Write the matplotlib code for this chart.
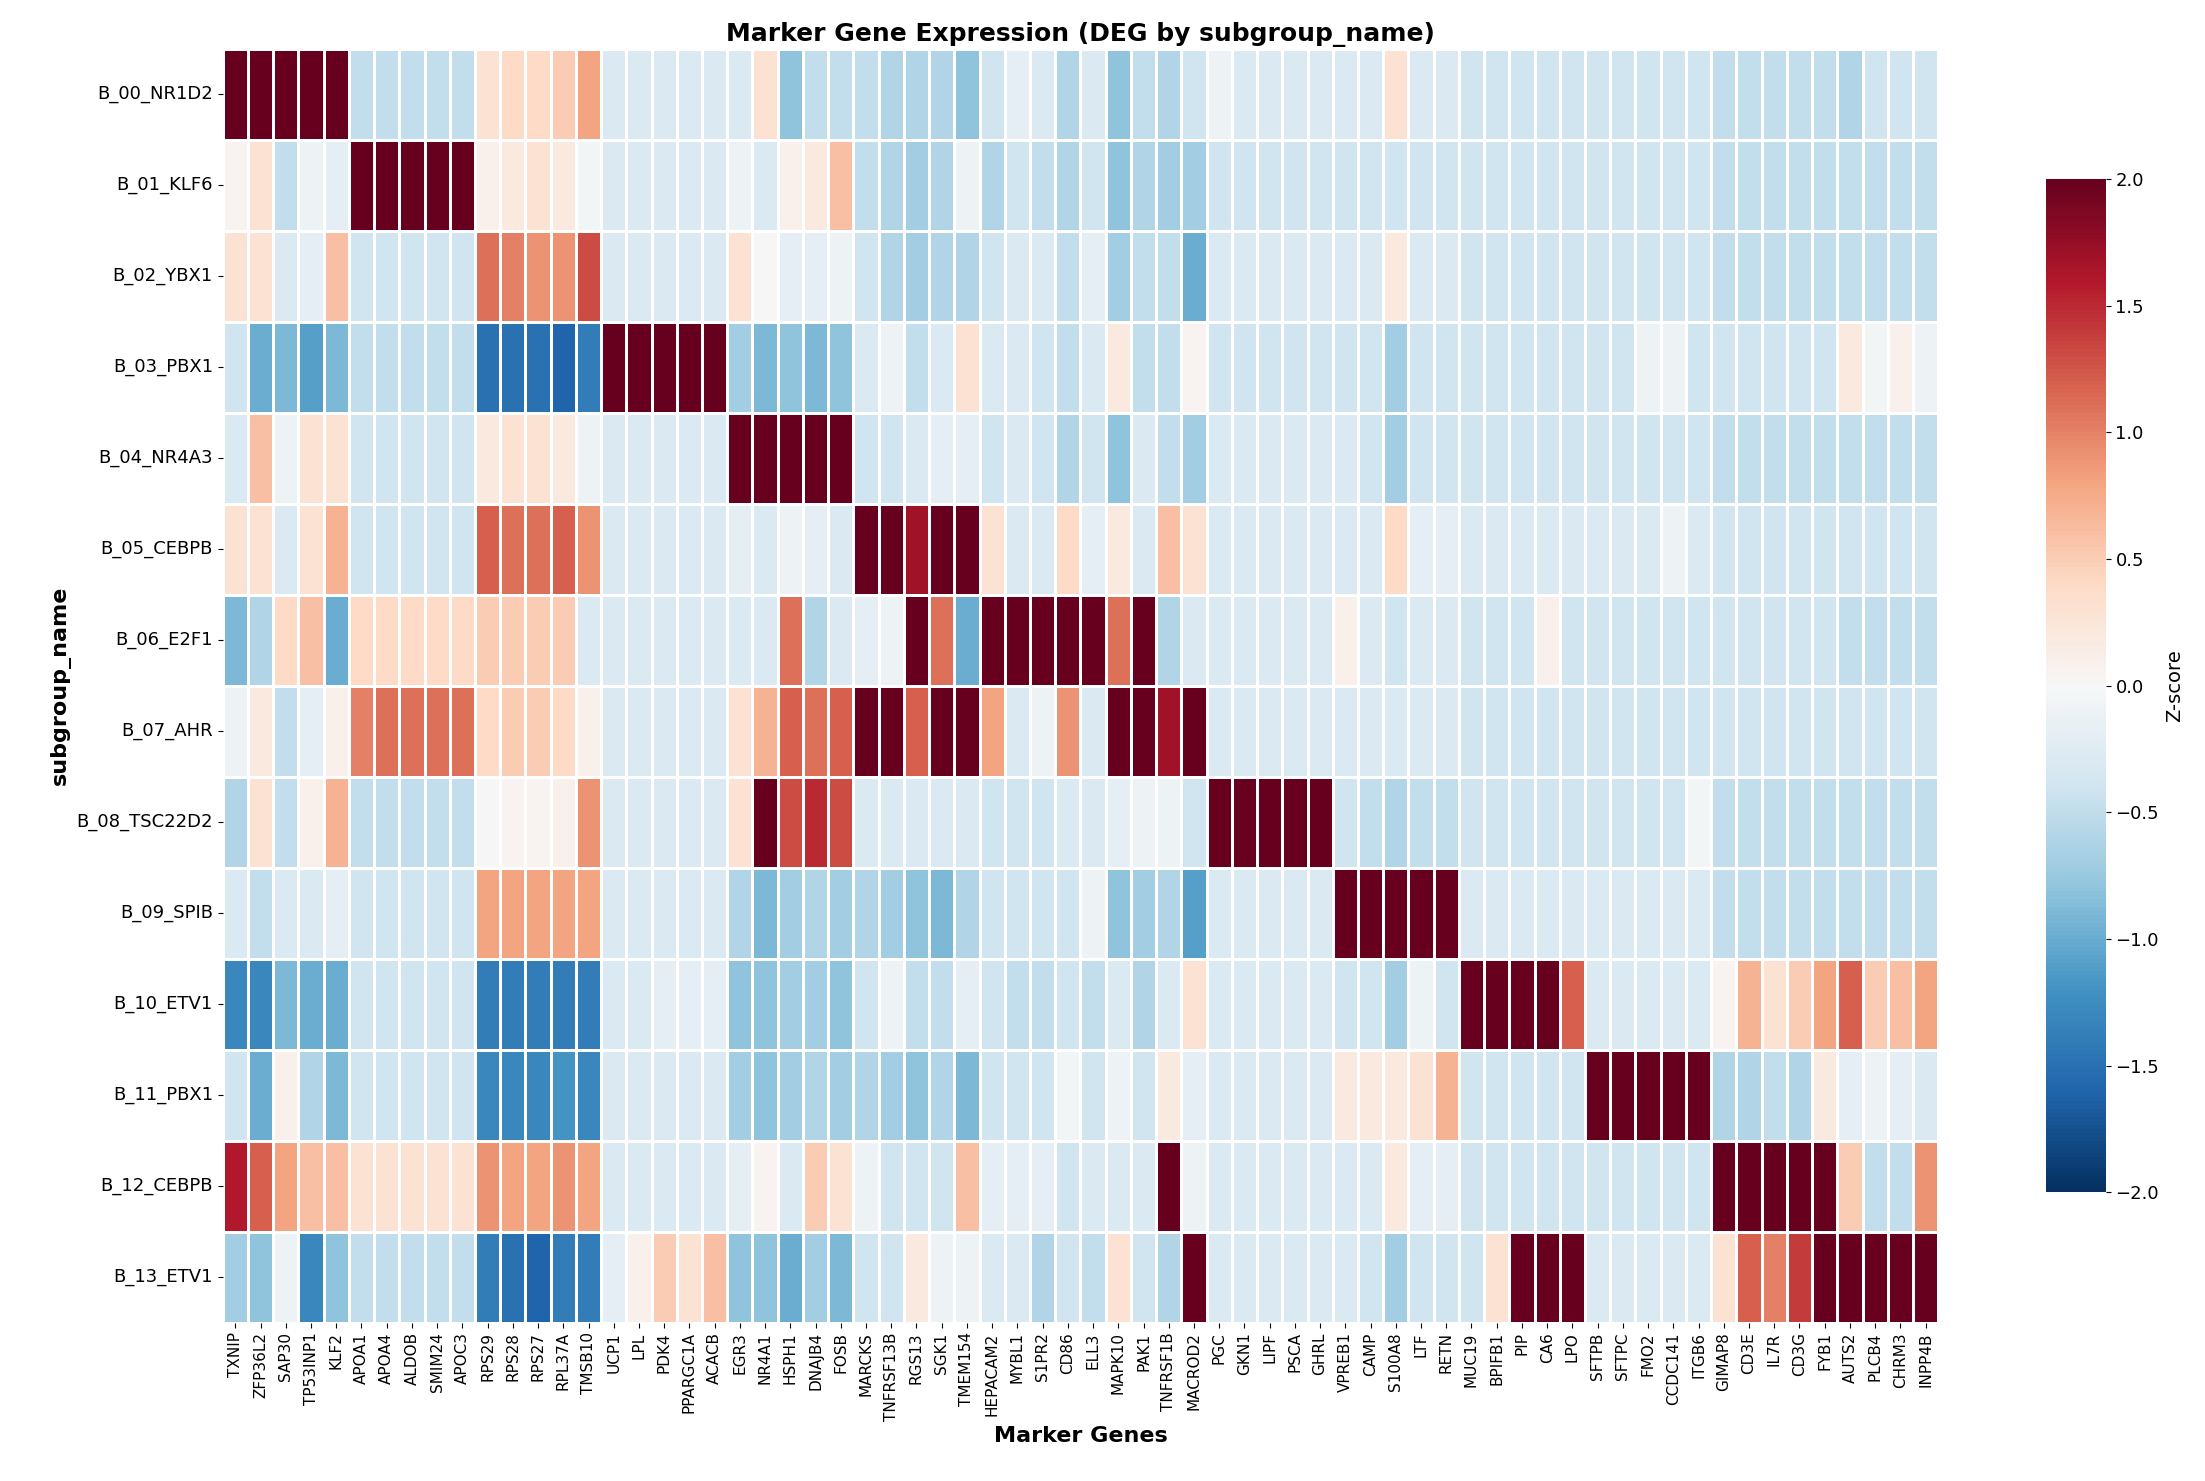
import matplotlib
matplotlib.use("Agg")
import matplotlib.pyplot as plt
import seaborn as sns
import numpy as np
import pandas as pd

genes = ["TXNIP","ZFP36L2","SAP30","TP53INP1","KLF2","APOA1","APOA4","ALDOB","SMIM24","APOC3",
 "RPS29","RPS28","RPS27","RPL37A","TMSB10","UCP1","LPL","PDK4","PPARGC1A","ACACB",
 "EGR3","NR4A1","HSPH1","DNAJB4","FOSB","MARCKS","TNFRSF13B","RGS13","SGK1","TMEM154",
 "HEPACAM2","MYBL1","S1PR2","CD86","ELL3","MAPK10","PAK1","TNFRSF1B","MACROD2",
 "PGC","GKN1","LIPF","PSCA","GHRL","VPREB1","CAMP","S100A8","LTF","RETN",
 "MUC19","BPIFB1","PIP","CA6","LPO","SFTPB","SFTPC","FMO2","CCDC141","ITGB6",
 "GIMAP8","CD3E","IL7R","CD3G","FYB1","AUTS2","PLCB4","CHRM3","INPP4B"]
groups = ["B_00_NR1D2","B_01_KLF6","B_02_YBX1","B_03_PBX1","B_04_NR4A3","B_05_CEBPB","B_06_E2F1",
 "B_07_AHR","B_08_TSC22D2","B_09_SPIB","B_10_ETV1","B_11_PBX1","B_12_CEBPB","B_13_ETV1"]

r00 = [2,2,2,2,2, -0.5,-0.5,-0.5,-0.5,-0.5, 0.3,0.4,0.4,0.5,0.8, -0.3,-0.3,-0.3,-0.3,-0.3,
 -0.3,0.3,-0.8,-0.5,-0.5, -0.5,-0.6,-0.6,-0.6,-0.8, -0.4,-0.2,-0.3,-0.6,-0.3, -0.8,-0.5,-0.6,-0.4,
 -0.1,-0.3,-0.3,-0.3,-0.3, -0.3,-0.3,0.3,-0.3,-0.3, -0.4,-0.4,-0.4,-0.4,-0.4, -0.4,-0.4,-0.4,-0.4,-0.4,
 -0.5,-0.5,-0.5,-0.5,-0.5, -0.6,-0.4,-0.4,-0.4]
r01 = [0.05,0.3,-0.5,-0.1,-0.2, 2,2,2,2,2, 0.1,0.2,0.3,0.2,-0.05, -0.3,-0.3,-0.3,-0.3,-0.3,
 -0.1,-0.3,0.1,0.2,0.6, -0.5,-0.6,-0.7,-0.6,-0.1, -0.6,-0.4,-0.5,-0.6,-0.4, -0.8,-0.6,-0.7,-0.7,
 -0.4,-0.4,-0.4,-0.4,-0.4, -0.4,-0.4,-0.4,-0.4,-0.4, -0.4,-0.4,-0.4,-0.4,-0.4, -0.4,-0.4,-0.4,-0.4,-0.4,
 -0.5,-0.5,-0.5,-0.5,-0.5, -0.5,-0.5,-0.5,-0.5]
r02 = [0.3,0.3,-0.3,-0.2,0.6, -0.4,-0.4,-0.4,-0.4,-0.4, 1.1,1.0,0.9,0.9,1.3, -0.3,-0.3,-0.3,-0.3,-0.3,
 0.3,0.0,-0.2,-0.2,-0.1, -0.4,-0.6,-0.7,-0.6,-0.6, -0.4,-0.3,-0.3,-0.5,-0.2, -0.7,-0.5,-0.5,-1.0,
 -0.3,-0.3,-0.3,-0.3,-0.3, -0.3,-0.3,0.2,-0.3,-0.3, -0.4,-0.4,-0.4,-0.4,-0.4, -0.4,-0.4,-0.4,-0.4,-0.4,
 -0.5,-0.5,-0.5,-0.5,-0.5, -0.5,-0.5,-0.5,-0.5]
r03 = [-0.4,-1.0,-0.9,-1.1,-0.9, -0.5,-0.5,-0.5,-0.5,-0.5, -1.5,-1.5,-1.5,-1.6,-1.4, 2,2,2,2,2,
 -0.7,-0.9,-0.8,-0.9,-0.8, -0.3,-0.1,-0.5,-0.3,0.3, -0.3,-0.3,-0.4,-0.5,-0.3, 0.2,-0.5,-0.5,0.05,
 -0.4,-0.4,-0.4,-0.4,-0.4, -0.4,-0.4,-0.7,-0.4,-0.4, -0.4,-0.4,-0.4,-0.4,-0.4, -0.4,-0.4,-0.1,-0.1,-0.4,
 -0.4,-0.4,-0.4,-0.4,-0.4, 0.2,-0.05,0.1,-0.1]
r04 = [-0.3,0.6,-0.1,0.3,0.3, -0.4,-0.4,-0.4,-0.4,-0.4, 0.2,0.3,0.3,0.2,-0.1, -0.3,-0.3,-0.3,-0.3,-0.3,
 2,2,2,2,2, -0.4,-0.4,-0.3,-0.2,-0.2, -0.4,-0.3,-0.4,-0.6,-0.4, -0.8,-0.3,-0.5,-0.7,
 -0.3,-0.3,-0.3,-0.3,-0.3, -0.3,-0.4,-0.7,-0.4,-0.4, -0.4,-0.4,-0.4,-0.4,-0.4, -0.4,-0.4,-0.4,-0.4,-0.4,
 -0.5,-0.5,-0.5,-0.5,-0.5, -0.5,-0.5,-0.5,-0.5]
r05 = [0.3,0.3,-0.3,0.3,0.7, -0.4,-0.4,-0.4,-0.4,-0.4, 1.2,1.1,1.1,1.2,0.9, -0.3,-0.3,-0.3,-0.3,-0.3,
 -0.2,-0.3,-0.1,-0.2,-0.3, 2,2,1.7,2,2, 0.3,-0.3,-0.3,0.4,-0.2, 0.2,-0.3,0.6,0.3,
 -0.3,-0.3,-0.3,-0.3,-0.3, -0.3,-0.3,0.4,-0.2,-0.2, -0.3,-0.3,-0.3,-0.3,-0.3, -0.3,-0.3,-0.3,-0.1,-0.3,
 -0.4,-0.4,-0.4,-0.4,-0.4, -0.4,-0.4,-0.4,-0.4]
r06 = [-0.9,-0.6,0.4,0.6,-1.0, 0.4,0.4,0.4,0.4,0.4, 0.5,0.5,0.5,0.5,-0.3, -0.3,-0.3,-0.3,-0.3,-0.3,
 -0.3,-0.3,1.1,-0.6,-0.3, -0.2,-0.1,2,1.1,-1.0, 2,2,2,2,2, 1.1,2,-0.6,-0.3,
 -0.3,-0.3,-0.3,-0.3,-0.3, 0.1,-0.3,-0.4,-0.3,-0.3, -0.4,-0.4,-0.4,0.1,-0.4, -0.4,-0.4,-0.4,-0.4,-0.4,
 -0.4,-0.4,-0.4,-0.4,-0.4, -0.5,-0.5,-0.5,-0.5]
r07 = [-0.1,0.2,-0.5,-0.2,0.1, 1.0,1.1,1.1,1.1,1.1, 0.4,0.5,0.5,0.4,0.1, -0.3,-0.3,-0.3,-0.3,-0.3,
 0.3,0.7,1.2,1.1,1.2, 2,2,1.2,2,2, 0.8,-0.3,-0.1,0.9,-0.3, 2,2,1.7,2,
 -0.3,-0.3,-0.3,-0.3,-0.3, -0.3,-0.3,-0.3,-0.3,-0.3, -0.4,-0.4,-0.4,-0.4,-0.4, -0.4,-0.4,-0.4,-0.4,-0.4,
 -0.4,-0.4,-0.4,-0.4,-0.4, -0.4,-0.4,-0.4,-0.4]
r08 = [-0.6,0.3,-0.5,0.1,0.7, -0.5,-0.5,-0.5,-0.5,-0.5, 0.0,0.05,0.05,0.1,0.9, -0.3,-0.3,-0.3,-0.3,-0.3,
 0.3,2,1.3,1.5,1.3, -0.3,-0.3,-0.3,-0.3,-0.3, -0.4,-0.4,-0.4,-0.3,-0.3, -0.2,-0.1,-0.1,-0.4,
 2,2,2,2,2, -0.4,-0.5,-0.6,-0.5,-0.5, -0.4,-0.4,-0.4,-0.4,-0.4, -0.4,-0.4,-0.4,-0.4,-0.05,
 -0.5,-0.5,-0.5,-0.5,-0.5, -0.5,-0.5,-0.5,-0.5]
r09 = [-0.3,-0.5,-0.3,-0.3,-0.2, -0.4,-0.4,-0.4,-0.4,-0.4, 0.8,0.8,0.8,0.8,0.8, -0.3,-0.3,-0.3,-0.3,-0.3,
 -0.6,-0.9,-0.7,-0.6,-0.7, -0.6,-0.7,-0.8,-0.9,-0.6, -0.4,-0.4,-0.4,-0.4,-0.1, -0.8,-0.7,-0.6,-1.1,
 -0.3,-0.3,-0.3,-0.3,-0.3, 2,2,2,2,2, -0.3,-0.3,-0.3,-0.3,-0.3, -0.3,-0.3,-0.3,-0.3,-0.3,
 -0.5,-0.5,-0.5,-0.5,-0.5, -0.5,-0.5,-0.5,-0.5]
r10 = [-1.3,-1.3,-0.9,-1.0,-1.0, -0.4,-0.4,-0.4,-0.4,-0.4, -1.4,-1.4,-1.4,-1.4,-1.4, -0.3,-0.3,-0.2,-0.2,-0.2,
 -0.8,-0.8,-0.7,-0.7,-0.8, -0.4,-0.1,-0.5,-0.5,-0.2, -0.4,-0.5,-0.5,-0.4,-0.5, -0.3,-0.6,-0.3,0.3,
 -0.3,-0.3,-0.3,-0.3,-0.3, -0.4,-0.4,-0.7,-0.1,-0.4, 2,2,2,2,1.2, -0.3,-0.3,-0.3,-0.3,-0.3,
 0.05,0.7,0.3,0.5,0.8, 1.2,0.5,0.6,0.8]
r11 = [-0.4,-1.0,0.1,-0.6,-0.9, -0.4,-0.4,-0.4,-0.4,-0.4, -1.3,-1.3,-1.3,-1.2,-1.3, -0.3,-0.3,-0.3,-0.3,-0.3,
 -0.7,-0.8,-0.7,-0.6,-0.7, -0.6,-0.7,-0.8,-0.6,-0.9, -0.4,-0.4,-0.4,-0.05,-0.4, -0.1,-0.4,0.2,-0.2,
 -0.3,-0.3,-0.3,-0.3,-0.3, 0.2,0.2,0.2,0.3,0.7, -0.4,-0.4,-0.4,-0.4,-0.4, 2,2,2,2,2,
 -0.6,-0.6,-0.5,-0.6,0.2, -0.2,-0.1,-0.2,-0.3]
r12 = [1.6,1.2,0.8,0.6,0.6, 0.3,0.3,0.3,0.3,0.3, 0.9,0.8,0.8,0.9,0.8, -0.3,-0.3,-0.3,-0.3,-0.3,
 -0.2,0.05,-0.3,0.5,0.3, -0.1,-0.4,-0.4,-0.4,0.6, -0.2,-0.2,-0.2,-0.4,-0.3, -0.3,-0.3,2,-0.1,
 -0.3,-0.3,-0.3,-0.3,-0.3, -0.3,-0.3,0.2,-0.2,-0.2, -0.4,-0.4,-0.4,-0.4,-0.4, -0.4,-0.4,-0.4,-0.4,-0.4,
 2,2,2,2,2, 0.5,-0.5,-0.5,0.9]
r13 = [-0.7,-0.8,-0.1,-1.3,-0.8, -0.5,-0.5,-0.5,-0.5,-0.5, -1.4,-1.5,-1.6,-1.4,-1.4, -0.2,0.1,0.5,0.3,0.6,
 -0.8,-0.8,-1.0,-0.7,-0.9, -0.4,-0.4,0.2,-0.1,-0.1, -0.3,-0.3,-0.6,-0.4,-0.5, 0.3,-0.4,-0.6,2,
 -0.3,-0.3,-0.3,-0.3,-0.3, -0.3,-0.4,-0.7,-0.4,-0.4, -0.4,0.3,2,2,2, -0.3,-0.3,-0.3,-0.3,-0.3,
 0.3,1.2,1.0,1.4,2, 2,2,2,2]

rows = [r00,r01,r02,r03,r04,r05,r06,r07,r08,r09,r10,r11,r12,r13]
df = pd.DataFrame(rows, index=groups, columns=genes)

fig = plt.figure(figsize=(22.05, 14.81), dpi=100)
ax = fig.add_axes([0.101, 0.107, 0.778, 0.860])
cax = fig.add_axes([0.928, 0.195, 0.027, 0.684])
sns.heatmap(df, cmap="RdBu_r", vmin=-2, vmax=2, linewidths=1.0, linecolor="white",
            ax=ax, cbar_ax=cax, cbar_kws={"label": "Z-score"},
            xticklabels=True, yticklabels=True)
ax.set_title("Marker Gene Expression (DEG by subgroup_name)", fontsize=18, fontweight="bold")
ax.set_xlabel("Marker Genes", fontsize=16, fontweight="bold")
ax.set_ylabel("subgroup_name", fontsize=16, fontweight="bold")
ax.tick_params(axis="x", labelsize=11, rotation=90)
ax.tick_params(axis="y", labelsize=13, rotation=0)
cax.tick_params(labelsize=13)
cax.yaxis.label.set_size(14)
fig.savefig("out.png", dpi=100)
